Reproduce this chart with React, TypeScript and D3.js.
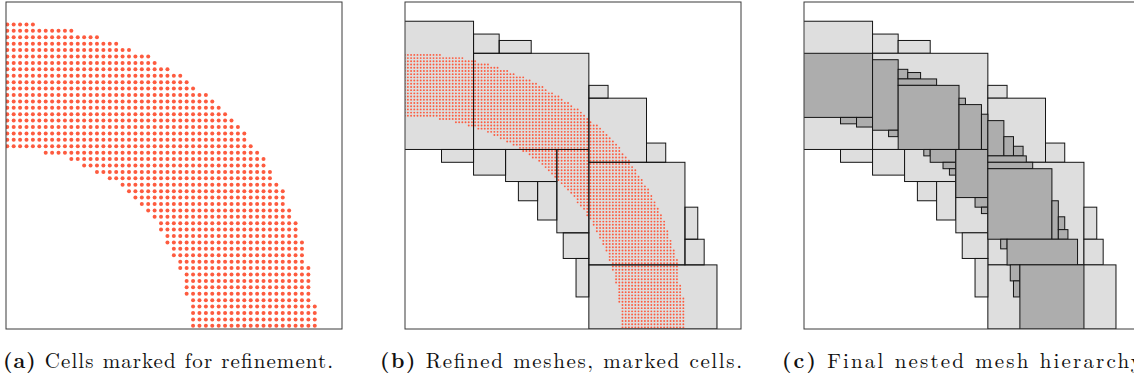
import React from "react";
import * as d3 from "d3";

// ---------- data (coarse cell units; x to the right, y downward) ----------
// Panel (a): marked coarse cells, per row j (0..47): first and last marked column
const coarseRowStart = [
  0, 0, 0, 0, 0, 0, 0, 0, 0, 0,
  0, 0, 0, 0, 0, 0, 0, 0, 0, 0,
  6, 10, 12, 14, 16, 18, 19, 20, 21, 22,
  23, 24, 24, 25, 25, 26, 26, 27, 27, 28,
  28, 28, 28, 29, 29, 29, 29, 29,
];
const coarseRowEnd = [
  4, 10, 14, 17, 19, 22, 23, 25, 27, 28,
  29, 31, 32, 33, 34, 35, 36, 37, 37, 38,
  39, 40, 40, 41, 41, 42, 43, 43, 43, 44,
  44, 45, 45, 45, 46, 46, 46, 46, 47, 47,
  47, 47, 47, 47, 48, 48, 48, 48,
];

// Panel (b): marked fine cells (half size), rows n = 10..95
const fineFirstRow = 10;
const fineRowStart = [
  0, 0, 0, 0, 0, 0, 0, 0, 0, 0,
  0, 0, 0, 0, 0, 0, 0, 0, 0, 0,
  11, 16, 20, 23, 26, 28, 30, 32, 34, 36,
  37, 39, 40, 42, 43, 44, 45, 46, 47, 48,
  49, 50, 51, 52, 53, 54, 54, 55, 56, 57,
  57, 58, 59, 59, 60, 60, 61, 61, 62, 62,
  63, 63, 64, 64, 64, 65, 65, 65, 66, 66,
  66, 66, 67, 67, 67, 67, 67, 67, 68, 68,
  68, 68, 68, 68, 68, 68,
];
const fineRowEnd = [
  11, 18, 22, 26, 29, 32, 34, 37, 39, 41,
  43, 44, 46, 48, 49, 51, 52, 54, 55, 56,
  57, 58, 60, 61, 62, 63, 64, 65, 66, 67,
  67, 68, 69, 70, 70, 71, 72, 72, 73, 74,
  74, 75, 76, 76, 77, 77, 78, 78, 79, 79,
  80, 80, 81, 81, 81, 82, 82, 82, 83, 83,
  83, 84, 84, 84, 85, 85, 85, 85, 85, 85,
  85, 85, 86, 86, 86, 86, 87, 87, 87, 87,
  87, 87, 87, 87, 87, 87,
];

// Level-1 refined meshes [x0, x1, y0, y1]
const level1Meshes = [
  [0, 11, 0, 20],
  [11, 15, 2, 5],
  [15, 20, 3, 5],
  [11, 29, 5, 20],
  [29, 32, 10, 12],
  [29, 38, 12, 22],
  [38, 41, 19, 22],
  [29, 44, 22, 38],
  [44, 46, 29, 34],
  [44, 47, 34, 38],
  [29, 49, 38, 48],
  [6, 11, 20, 22],
  [11, 16, 20, 24],
  [16, 24, 20, 25],
  [18, 21, 25, 28],
  [21, 24, 25, 31],
  [24, 29, 20, 33],
  [25, 29, 33, 37],
  [27, 29, 37, 43],
];

// Level-2 refined meshes [x0, x1, y0, y1]
const level2Meshes = [
  [0, 11, 5, 15],
  [6, 8.5, 15, 16],
  [8.5, 11, 15, 16.5],
  [11, 15, 6, 17],
  [13.5, 15, 17, 18],
  [15, 16.5, 7.5, 9],
  [16.5, 18.5, 8, 9],
  [15, 21, 9, 10],
  [15, 24.5, 10, 20],
  [24.5, 25.5, 12, 13],
  [24.5, 28, 13, 20],
  [28, 29, 14.5, 20],
  [19, 20, 20, 21],
  [20, 24, 20, 22],
  [22, 24, 22, 23],
  [23, 24, 23, 24],
  [24, 29, 20, 27.5],
  [27, 29, 27.5, 29],
  [28, 29, 29, 30],
  [29, 31.5, 15.5, 21],
  [31.5, 33, 18, 21],
  [33, 34.5, 19.5, 21],
  [29, 35, 21, 22],
  [29, 36, 22, 23],
  [29, 39, 23, 34],
  [39, 40, 28, 34],
  [40, 41, 30.5, 32.5],
  [40, 41.5, 32.5, 34],
  [31, 32, 34, 35.5],
  [32, 43, 34, 38],
  [32.5, 34, 38, 40.5],
  [33, 34, 40.5, 43],
  [34, 44, 38, 48],
];

const captionLabels = ["(a)", "(b)", "(c)"];
const captionTexts = [
  "Cells marked for refinement.",
  "Refined meshes, marked cells.",
  "Final nested mesh hierarchy.",
];

// ---------- layout ----------
const W = 1134;
const H = 383;
const panelLefts = [6, 405, 804];
const panelWidth = 336;
const boxTop = 2;
const boxBottom = 329;
const captionX = [3, 380, 782];
const captionLen = [330, 362, 366];

const RED = "#fd5b3f";
const LIGHT = "#dedede";
const DARK = "#adadad";
const STROKE = "#151515";

function Panel({ idx }: { idx: number }) {
  const left = panelLefts[idx];
  const x = d3.scaleLinear().domain([0.3, 52.75]).range([left, left + panelWidth]);
  const y = d3.scaleLinear().domain([-3, 48]).range([boxTop, boxBottom]);
  const clipId = `clip-${idx}`;

  const rect = (m: number[], fill: string, stroke: string, key: string) => (
    <rect
      key={key}
      x={x(m[0])}
      y={y(m[2])}
      width={x(m[1]) - x(m[0])}
      height={y(m[3]) - y(m[2])}
      fill={fill}
      stroke={stroke}
      strokeWidth={1}
    />
  );

  const content: React.ReactNode[] = [];
  if (idx === 0) {
    coarseRowStart.forEach((s, j) => {
      d3.range(s, coarseRowEnd[j] + 1).forEach((i) => {
        content.push(
          <circle key={`a-${j}-${i}`} cx={x(i + 0.5)} cy={y(j + 0.5)} r={2} fill={RED} />
        );
      });
    });
  } else if (idx === 1) {
    level1Meshes.forEach((m, k) => content.push(rect(m, LIGHT, "none", `f1-${k}`)));
    fineRowStart.forEach((s, k) => {
      const n = fineFirstRow + k;
      d3.range(s, fineRowEnd[k] + 1).forEach((m) => {
        content.push(
          <circle
            key={`b-${n}-${m}`}
            cx={x((m + 0.5) / 2)}
            cy={y((n + 0.5) / 2)}
            r={0.95}
            fill={RED}
          />
        );
      });
    });
    level1Meshes.forEach((m, k) => content.push(rect(m, "none", STROKE, `s1-${k}`)));
  } else {
    level1Meshes.forEach((m, k) => content.push(rect(m, LIGHT, STROKE, `c1-${k}`)));
    level2Meshes.forEach((m, k) => content.push(rect(m, DARK, STROKE, `c2-${k}`)));
  }

  return (
    <g>
      <defs>
        <clipPath id={clipId}>
          <rect x={left} y={boxTop} width={panelWidth} height={boxBottom - boxTop} />
        </clipPath>
      </defs>
      <g clipPath={`url(#${clipId})`}>{content}</g>
      <rect
        x={left}
        y={boxTop}
        width={panelWidth}
        height={boxBottom - boxTop}
        fill="none"
        stroke="#3a3a3a"
        strokeWidth={1}
      />
      <text
        x={captionX[idx]}
        y={368}
        fontSize={21}
        fontFamily="'Latin Modern Roman', 'CMU Serif', 'Liberation Serif', serif"
        fill="#111"
        textLength={captionLen[idx]}
        lengthAdjust="spacing"
      >
        <tspan fontWeight="bold">{captionLabels[idx]}</tspan>
        {" " + captionTexts[idx]}
      </text>
    </g>
  );
}

export default function App() {
  return (
    <svg
      width={W}
      height={H}
      viewBox={`0 0 ${W} ${H}`}
      style={{ position: "absolute", left: 0, top: 0, background: "#fff" }}
    >
      <rect x={0} y={0} width={W} height={H} fill="#fff" />
      {[0, 1, 2].map((i) => (
        <Panel key={i} idx={i} />
      ))}
    </svg>
  );
}
